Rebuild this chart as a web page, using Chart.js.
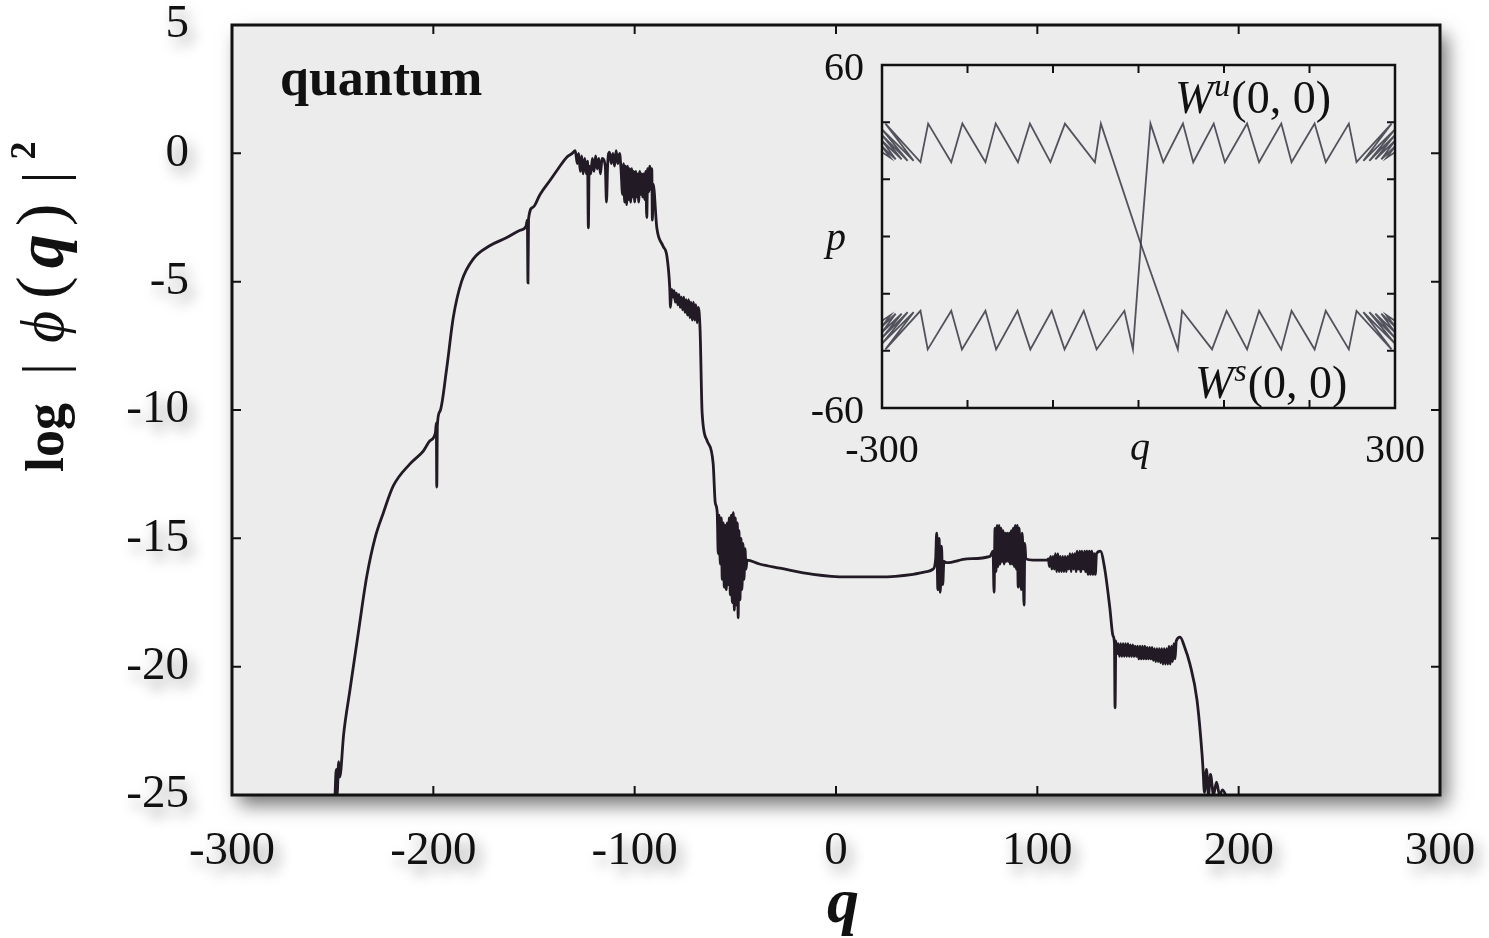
<!DOCTYPE html>
<html>
<head>
<meta charset="utf-8">
<script src="https://cdn.jsdelivr.net/npm/chart.js@4.4.1/dist/chart.umd.min.js"></script>
<style>
html, body { margin: 0; padding: 0; background: #fff; }
#wrap { position: relative; width: 1489px; height: 938px; overflow: hidden; }
#plot { position: absolute; left: 0; top: 0; }
#inset { position: absolute; left: 800px; top: 40px; }
</style>
</head>
<body>
<div id="wrap">
<canvas id="plot" width="1489" height="938"></canvas>
<canvas id="inset" width="630" height="430"></canvas>
</div>
<script>
// main curve, [q, log|phi(q)|^2], left to right
var riseLeft = [[-251,-26.5],[-249,-25.3],[-248.2,-24.0],[-247.8,-25.0],[-247,-23.7],[-246.5,-24.3],[-244.5,-22.6],[-241.4,-20.9],[-237.3,-18.7],[-233.1,-16.5],[-229,-15.0],[-224.8,-14.0],[-219.9,-12.96],[-211.6,-12.1],[-205,-11.6],[-201.7,-11.2],[-199,-10.9],[-198.5,-10.5],[-198.3,-13.0],[-198,-10.6],[-196.7,-10.05],[-193.4,-8.4],[-190.1,-6.4],[-186,-5.0],[-180,-4.1],[-172,-3.6],[-164,-3.3],[-156.9,-3.0],[-154,-2.85],[-153.3,-2.6],[-153,-5.05],[-152.7,-2.55],[-150.5,-2.1],[-147,-1.6],[-142,-1.05],[-138,-0.6],[-133.6,-0.14]];
var peakTop = [[-131,0.0],[-129.5,0.1],[-128.5,-0.4],[-127.8,0.0],[-127,-0.7],[-126.3,-0.1],[-125.6,-0.8],[-124.8,-0.2],[-124,-0.8],[-123.4,-0.3],[-123,-2.9],[-122.6,-0.5],[-121.8,-0.8],[-121,-0.2],[-120.2,-0.7],[-119.4,-0.1],[-118.6,-0.6],[-117.8,-0.2],[-117,-0.8],[-116.2,-0.2],[-114.6,-0.5],[-114,-1.9],[-113.4,-0.4],[-112.5,0.05],[-111.6,-0.4],[-110.8,0.0],[-110,-0.5],[-109.2,0.1],[-108.4,-0.4],[-107.5,0.0],[-106.8,-0.6],[-106,-1.6],[-105.5,-0.4],[-105,-1.9],[-104.5,-0.5],[-104,-2.0],[-103.5,-0.5],[-103,-1.8],[-102.5,-0.6],[-102,-1.9],[-101.5,-0.6],[-101,-1.7],[-100.5,-0.7],[-100,-1.9],[-99.5,-0.7],[-99,-1.7],[-98.5,-0.8],[-98,-1.9],[-97.5,-0.7],[-97,-1.6],[-96.5,-0.8],[-96,-1.7],[-95.5,-0.8],[-95,-1.8],[-94.5,-0.7],[-94,-2.5],[-93.5,-0.6],[-93,-1.5],[-92.5,-0.5],[-92,-1.4],[-91.5,-0.6],[-91.2,-2.6],[-90.8,-1.2]];
var dropMid = [[-89,-2.9],[-86,-3.6],[-84,-4.0],[-82.6,-5.2],[-82.2,-6.0],[-81.6,-5.3],[-81,-5.6],[-80.4,-5.35],[-79.8,-5.8],[-79.2,-5.45],[-78.6,-5.9],[-78,-5.5],[-77.4,-6.0],[-76.8,-5.6],[-76.2,-6.1],[-75.6,-5.6],[-75,-6.2],[-74.4,-5.7],[-73.8,-6.3],[-73.2,-5.7],[-72.6,-6.4],[-72,-5.8],[-71.4,-6.5],[-70.8,-5.8],[-70.2,-6.5],[-69.6,-5.9],[-69,-6.6],[-68.4,-6.0],[-67.5,-6.9],[-66.5,-10.1],[-64,-11.2],[-61,-12.1],[-60,-13.6],[-59,-14.0],[-58.5,-15.6],[-58,-14.1],[-57.5,-16.0],[-57,-14.2],[-56.5,-16.6],[-56,-14.4],[-55.5,-16.9],[-55,-14.5],[-54.5,-17.0],[-54,-14.4],[-53.5,-16.8],[-53,-14.2],[-52.5,-17.2],[-52,-14.1],[-51.5,-17.5],[-51,-14.0],[-50.5,-17.8],[-50,-14.2],[-49.5,-17.6],[-49,-14.4],[-48.6,-18.1],[-48.2,-14.7],[-47.7,-17.4],[-47.2,-15.0],[-46.7,-17.0],[-46.2,-15.2],[-45.7,-16.6],[-45.2,-15.4],[-44.7,-16.2],[-44.2,-15.85]];
var valley = [[-38,-16.0],[-27.8,-16.16],[-11.4,-16.4],[5.5,-16.5],[21.9,-16.5],[38.3,-16.4],[45,-16.3],[48.2,-16.2],[49.5,-15.8],[50,-14.8],[50.6,-17.0],[51.2,-15.0],[51.8,-17.1],[52.4,-15.3],[53,-16.8],[53.6,-15.9],[55,-15.95],[65,-15.8],[76.5,-15.7]];
var shoulder = [[78,-15.5],[78.5,-17.1],[79,-14.6],[79.5,-16.3],[80,-14.5],[80.5,-16.1],[81,-14.5],[81.5,-16.0],[82,-14.6],[82.5,-15.9],[83,-14.7],[83.5,-16.0],[84,-14.8],[84.5,-15.9],[85,-14.8],[85.5,-15.9],[86,-14.8],[86.5,-16.0],[87,-14.7],[87.5,-16.0],[88,-14.6],[88.5,-16.1],[89,-14.5],[89.5,-16.2],[90,-14.5],[90.5,-16.9],[91,-14.6],[91.5,-16.2],[92,-17.0],[92.5,-14.8],[93,-16.3],[93.4,-17.6],[93.8,-15.2],[94.3,-15.8],[97.9,-15.85],[104.8,-15.85],[105.5,-15.8],[106,-16.1],[106.6,-15.7],[107.2,-16.2],[107.8,-15.7],[108.4,-16.2],[109,-15.6],[109.6,-16.3],[110.2,-15.6],[110.8,-16.3],[111.4,-15.7],[112,-16.3],[112.6,-15.7],[113.2,-16.3],[113.8,-15.7],[114.4,-16.3],[115,-15.7],[115.6,-16.2],[116.2,-15.6],[116.8,-16.3],[117.4,-15.6],[118,-16.2],[118.6,-15.6],[119.2,-16.3],[119.8,-15.5],[120.4,-16.2],[121,-15.5],[121.6,-16.3],[122.2,-15.5],[122.8,-16.2],[123.4,-15.5],[124,-16.3],[124.6,-15.5],[125.2,-16.4],[125.8,-15.5],[126.4,-16.4],[127,-15.5],[127.6,-16.4],[128.2,-15.6],[128.8,-16.4],[129.4,-15.6],[131.3,-15.5]];
var stepDown = [[133.5,-16.2],[136,-17.7],[137.6,-18.8],[138.3,-19.1],[138.6,-21.6],[139,-19.0],[139.6,-19.5],[140.2,-19.1],[140.8,-19.6],[141.4,-19.1],[142,-19.6],[142.6,-19.1],[143.2,-19.6],[143.8,-19.1],[144.4,-19.6],[145,-19.1],[145.6,-19.6],[146.2,-19.15],[146.8,-19.6],[147.4,-19.15],[148,-19.6],[148.6,-19.2],[149.2,-19.6],[149.8,-19.2],[150.4,-19.7],[151,-19.2],[151.6,-19.7],[152.2,-19.2],[152.8,-19.7],[153.4,-19.2],[154,-19.7],[154.6,-19.25],[155.2,-19.7],[155.8,-19.25],[156.4,-19.7],[157,-19.25],[157.6,-19.75],[158.2,-19.3],[158.8,-19.8],[159.4,-19.3],[160,-19.8],[160.6,-19.3],[161.2,-19.85],[161.8,-19.3],[162.4,-19.9],[163,-19.3],[163.6,-19.9],[164.2,-19.3],[164.8,-19.9],[165.4,-19.2],[166,-19.9],[166.6,-19.2],[167.2,-19.8],[167.8,-19.1],[168.4,-19.7],[169,-19.0],[170.9,-18.85],[173,-19.2],[175.8,-19.9],[179.3,-21.3],[181.8,-23.4],[182.3,-24.0],[183,-24.9],[184,-24.0],[185,-25.0],[186,-24.2],[187.5,-25.0],[189,-24.5],[190.5,-25.0],[192,-24.8],[194,-25.1],[196,-25.6]];

// inset: the two manifold branches, [q, p]
var branchU = [[-300,29.5],[-290,27.5],[-300,31.5],[-284,27],[-300,33.5],[-277,27],[-300,35.5],[-270,26.5],[-300,37.5],[-263,26.5],[-296,39.5],[-255,26],[-246,39.5],[-219,26],[-206,39.5],[-179,26],[-167,39.5],[-141,26],[-127,39.5],[-103,26],[-86,39.5],[-51,26],[-44,39.5],[2,-2],[46,-39.5],[51,-26],[86,-39.5],[103,-26],[127,-39.5],[141,-26],[167,-39.5],[179,-26],[206,-39.5],[219,-26],[246,-39.5],[255,-26],[296,-39.5],[263,-26.5],[300,-37.5],[270,-26.5],[300,-35.5],[277,-27],[300,-33.5],[284,-27],[300,-31.5],[290,-27.5],[300,-29.5]];
var branchS = [[-300,-29.5],[-290,-27.5],[-300,-31.5],[-284,-27],[-300,-33.5],[-277,-27],[-300,-35.5],[-270,-26.5],[-300,-37.5],[-263,-26.5],[-296,-39.5],[-255,-26],[-246.5,-39.5],[-219,-26],[-206.5,-39.5],[-179,-26],[-166.5,-39.5],[-141.5,-26],[-126.5,-39.5],[-101.5,-26],[-86.5,-39.5],[-64,-26],[-49,-39.5],[-16.5,-26],[-6.5,-39.5],[3,-1.5],[14,39.5],[29,26],[52,39.5],[64,26],[88,39.5],[101,26],[127,39.5],[141,26],[167,39.5],[179,26],[206,39.5],[219,26],[246,39.5],[255,26],[296,39.5],[263,26.5],[300,37.5],[270,26.5],[300,35.5],[277,27],[300,33.5],[284,27],[300,31.5],[290,27.5],[300,29.5]];

var mainXTicks = [-200, -100, 0, 100, 200];
var mainYTicks = [-20, -15, -10, -5, 0];
var insetXTicks = [-200, -100, 0, 100, 200];
var insetYTicks = [-40, -20, 0, 20, 40];

var serif = "'Liberation Serif', 'Times New Roman', serif";
var ink = '#111';

function toPts(list) {
  return list.map(function (d) { return { x: d[0], y: d[1] }; });
}

function inTicks(chart, xs, ys, len) {
  var c = chart.ctx, a = chart.chartArea, sx = chart.scales.x, sy = chart.scales.y;
  c.beginPath();
  xs.forEach(function (v) {
    var px = sx.getPixelForValue(v);
    c.moveTo(px, a.bottom); c.lineTo(px, a.bottom - len);
    c.moveTo(px, a.top); c.lineTo(px, a.top + len);
  });
  ys.forEach(function (v) {
    var py = sy.getPixelForValue(v);
    c.moveTo(a.left, py); c.lineTo(a.left + len, py);
    c.moveTo(a.right, py); c.lineTo(a.right - len, py);
  });
  c.stroke();
}

function noShadow(c) {
  c.shadowColor = 'rgba(0,0,0,0)'; c.shadowBlur = 0; c.shadowOffsetX = 0; c.shadowOffsetY = 0;
}

var mainDeco = {
  id: 'mainDeco',
  beforeDraw: function (chart) {
    var c = chart.ctx, a = chart.chartArea;
    c.save();
    c.shadowColor = 'rgba(0,0,0,0.55)'; c.shadowBlur = 18; c.shadowOffsetX = 7; c.shadowOffsetY = 10;
    c.fillStyle = '#ececec';
    c.fillRect(a.left, a.top, a.right - a.left, a.bottom - a.top);
    c.restore();
    // soft shadow under the tick labels
    c.shadowColor = 'rgba(0,0,0,0.42)'; c.shadowBlur = 14; c.shadowOffsetX = 5; c.shadowOffsetY = 8;
  },
  beforeDatasetsDraw: function (chart) { noShadow(chart.ctx); },
  afterDatasetsDraw: function (chart) {
    var c = chart.ctx, a = chart.chartArea;
    c.save();
    noShadow(c);
    c.strokeStyle = ink; c.lineWidth = 3;
    c.strokeRect(a.left, a.top, a.right - a.left, a.bottom - a.top);
    c.lineWidth = 2;
    inTicks(chart, mainXTicks, mainYTicks, 9);

    c.fillStyle = ink;
    c.textBaseline = 'alphabetic';
    c.font = 'bold 52px ' + serif;
    c.textAlign = 'left';
    c.fillText('quantum', 280, 95);

    c.font = 'bold italic 64px ' + serif;
    c.textAlign = 'center';
    c.fillText('q', 843, 922);

    // y title, drawn piece by piece along the rotated axis
    var parts = [
      ['log', 'bold 54px ' + serif, 0, 28],
      ['|', '60px ' + serif, 0, 20],
      ['\u03d5', 'italic 62px ' + serif, 0, 12],
      ['(', '68px ' + serif, 0, 8],
      ['q', 'bold italic 68px ' + serif, 0, 8],
      [')', '68px ' + serif, 0, 20],
      ['|', '60px ' + serif, 0, 12],
      ['2', 'bold 36px ' + serif, 28, 0]
    ];
    c.translate(63, 472);
    c.rotate(-Math.PI / 2);
    c.textAlign = 'left';
    var u = 0;
    parts.forEach(function (p) {
      c.font = p[1];
      c.fillText(p[0], u, -p[2]);
      u += c.measureText(p[0]).width + p[3];
    });
    c.restore();
  }
};

new Chart(document.getElementById('plot').getContext('2d'), {
  type: 'scatter',
  data: {
    datasets: [{
      data: toPts([].concat(riseLeft, peakTop, dropMid, valley, shoulder, stepDown)),
      showLine: true,
      borderColor: '#221a24',
      borderWidth: 2.8,
      pointRadius: 0,
      cubicInterpolationMode: 'monotone',
      fill: false
    }]
  },
  options: {
    responsive: false,
    animation: false,
    events: [],
    layout: { padding: { left: 0, top: 25, right: 49, bottom: 0 } },
    plugins: { legend: { display: false }, tooltip: { enabled: false } },
    scales: {
      x: {
        type: 'linear', min: -300, max: 300,
        grid: { display: false }, border: { display: false },
        ticks: {
          stepSize: 100, autoSkip: false, maxRotation: 0, padding: 20, color: ink,
          font: { family: serif, size: 47 },
          callback: function (v) { return String(v); }
        },
        afterFit: function (s) { s.height = 143; s.paddingLeft = 0; s.paddingRight = 0; }
      },
      y: {
        min: -25, max: 5,
        grid: { display: false }, border: { display: false },
        ticks: {
          stepSize: 5, autoSkip: false, padding: 35, color: ink,
          font: { family: serif, size: 47 },
          callback: function (v) { return String(v); }
        },
        afterFit: function (s) { s.width = 232; s.paddingTop = 0; s.paddingBottom = 0; }
      }
    }
  },
  plugins: [mainDeco]
});

var insetDeco = {
  id: 'insetDeco',
  afterDatasetsDraw: function (chart) {
    var c = chart.ctx, a = chart.chartArea;
    c.save();
    c.strokeStyle = ink; c.lineWidth = 2.5;
    c.strokeRect(a.left, a.top, a.right - a.left, a.bottom - a.top);
    c.lineWidth = 2;
    inTicks(chart, insetXTicks, insetYTicks, 8);

    c.fillStyle = ink;
    c.textBaseline = 'alphabetic';
    c.textAlign = 'center';
    c.font = 'italic 40px ' + serif;
    c.fillText('p', 36, 210);
    c.fillText('q', 340, 420);

    c.textAlign = 'left';
    function wLabel(x, y, sup) {
      c.font = 'italic 46px ' + serif;
      c.fillText('W', x, y);
      x += c.measureText('W').width + 1;
      c.font = 'italic 32px ' + serif;
      c.fillText(sup, x, y - 17);
      x += c.measureText(sup).width + 1;
      c.font = '46px ' + serif;
      c.fillText('(0, 0)', x, y);
    }
    wLabel(375, 73, 'u');
    wLabel(395, 358, 's');
    c.restore();
  }
};

var branchStyle = { showLine: true, borderColor: 'rgba(55,55,68,0.85)', borderWidth: 1.8, pointRadius: 0, tension: 0, fill: false };

new Chart(document.getElementById('inset').getContext('2d'), {
  type: 'scatter',
  data: {
    datasets: [
      Object.assign({ data: toPts(branchU) }, branchStyle),
      Object.assign({ data: toPts(branchS) }, branchStyle)
    ]
  },
  options: {
    responsive: false,
    animation: false,
    events: [],
    layout: { padding: { left: 0, top: 25, right: 35, bottom: 0 } },
    plugins: { legend: { display: false }, tooltip: { enabled: false } },
    scales: {
      x: {
        type: 'linear', min: -300, max: 300,
        grid: { display: false }, border: { display: false },
        ticks: {
          stepSize: 100, autoSkip: false, maxRotation: 0, padding: 11, color: ink,
          font: { family: serif, size: 40 },
          callback: function (v) { return (v === -300 || v === 300) ? String(v) : ''; }
        },
        afterFit: function (s) { s.height = 62; s.paddingLeft = 0; s.paddingRight = 0; }
      },
      y: {
        min: -60, max: 60,
        grid: { display: false }, border: { display: false },
        ticks: {
          stepSize: 20, autoSkip: false, padding: 10, color: ink,
          labelOffset: 4,
          font: { family: serif, size: 40 },
          callback: function (v) { return (v === -60 || v === 60) ? String(v) : ''; }
        },
        afterFit: function (s) { s.width = 82; s.paddingTop = 0; s.paddingBottom = 0; }
      }
    }
  },
  plugins: [insetDeco]
});
</script>
</body>
</html>
